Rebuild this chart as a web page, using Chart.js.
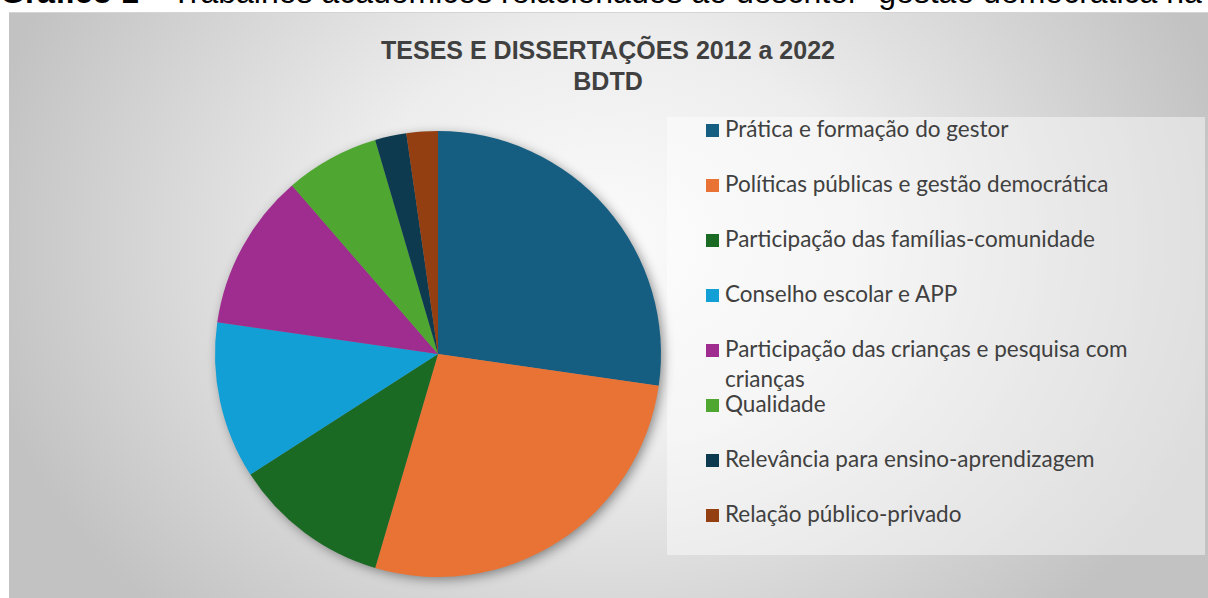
<!DOCTYPE html>
<html>
<head>
<meta charset="utf-8">
<script src="https://cdn.jsdelivr.net/npm/chart.js@4"></script>
<style>
  body { margin: 0; width: 1208px; height: 598px; overflow: hidden; background: #fff; position: relative; font-family: "Liberation Sans", Arial, sans-serif; }
  #caption { position: absolute; left: 0px; top: -24px; font-size: 32px; line-height: 32px; white-space: nowrap; color: #000; }
  #caption span { margin-left: 6px; }
  #box { position: absolute; left: 9px; top: 12px; width: 1220px; height: 600px; border-top: 1px solid #d4d4d4;
    background: radial-gradient(ellipse 640px 520px at 600px 230px, #fbfbfb 0%, #ededed 40%, #c2c2c2 100%); }
  #title { position: absolute; left: 0px; width: 1216px; top: 35px; text-align: center; font-weight: bold; font-size: 25px; line-height: 31px; color: #404040; }
  #chart-wrap { position: absolute; left: 198px; top: 114px; width: 480px; height: 480px; }
  #legend { position: absolute; left: 667px; top: 117px; width: 538px; height: 438px; background: rgba(255,255,255,0.45); }
  .item { position: absolute; left: 39px; height: 55px; width: 480px; font-family: Lato, sans-serif; font-size: 22.5px; line-height: 30px; color: #404040; }
  .item span.sw { position: absolute; left: 0; top: 8px; width: 13px; height: 13px; }
  .item span.tx { position: absolute; left: 19px; top: -2px; width: 460px; }
</style>
</head>
<body>
<div id="caption"><b>Gráfico 1 –</b><span>Trabalhos acadêmicos relacionados ao descritor “gestão democrática na</span></div>
<div id="box"></div>
<div id="title">TESES E DISSERTAÇÕES 2012 a 2022<br>BDTD</div>
<div id="legend"></div>
<div id="chart-wrap"><canvas id="pie"></canvas></div>
<script>
const categories = [
  "Prática e formação do gestor",
  "Políticas públicas e gestão democrática",
  "Participação das famílias-comunidade",
  "Conselho escolar e APP",
  "Participação das crianças e pesquisa com crianças",
  "Qualidade",
  "Relevância para ensino-aprendizagem",
  "Relação público-privado"
];
const counts = [12, 12, 5, 5, 5, 3, 1, 1];
const colors = ["#165E81", "#E97334", "#1B6A24", "#119FD5", "#9F2C8F", "#4FA731", "#0E3A50", "#943F11"];

// soft shadow under the pie, like the Office chart
const pieShadow = {
  id: "pieShadow",
  beforeDatasetsDraw(chart) {
    const arc = chart.getDatasetMeta(0).data[0];
    if (!arc) return;
    const ctx = chart.ctx;
    ctx.save();
    ctx.shadowColor = "rgba(0,0,0,0.45)";
    ctx.shadowBlur = 12;
    ctx.shadowOffsetX = 3;
    ctx.shadowOffsetY = 3;
    ctx.fillStyle = "#888";
    ctx.beginPath();
    ctx.arc(arc.x, arc.y, arc.outerRadius - 1, 0, Math.PI * 2);
    ctx.fill();
    ctx.restore();
  }
};

const chart = new Chart(document.getElementById("pie").getContext("2d"), {
  type: "pie",
  data: {
    labels: categories,
    datasets: [{ data: counts, backgroundColor: colors, borderWidth: 0 }]
  },
  options: {
    responsive: true,
    maintainAspectRatio: false,
    animation: false,
    layout: { padding: 17 },
    plugins: { legend: { display: false }, tooltip: { enabled: false } }
  },
  plugins: [pieShadow]
});

// legend built from the chart's own legend items
const legend = document.getElementById("legend");
chart.options.plugins.legend.labels.generateLabels(chart).forEach((item, i) => {
  const row = document.createElement("div");
  row.className = "item";
  row.style.top = (-1 + i * 55) + "px";
  row.innerHTML = `<span class="sw" style="background:${item.fillStyle}"></span><span class="tx">${item.text}</span>`;
  legend.appendChild(row);
});
</script>
</body>
</html>
